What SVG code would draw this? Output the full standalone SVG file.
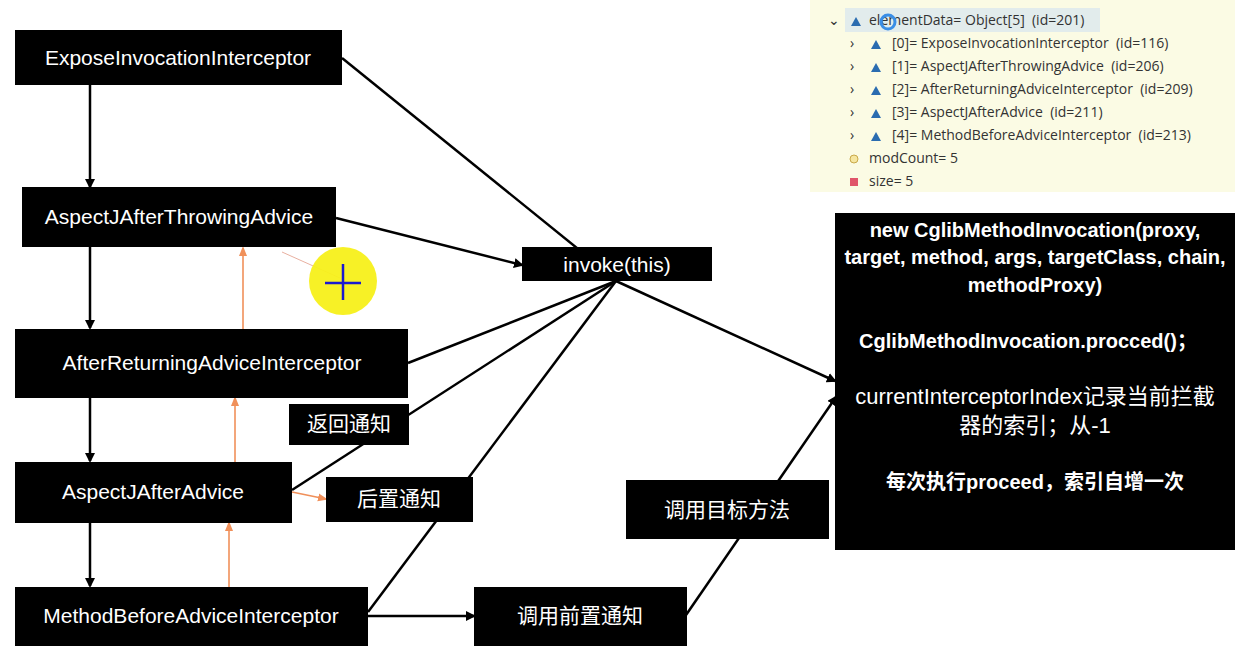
<svg xmlns="http://www.w3.org/2000/svg" width="1235" height="662" viewBox="0 0 1235 662">
<style>
.b{fill:#000}
.t{fill:#fff;font-family:"Liberation Sans","Noto Sans CJK SC",sans-serif;font-size:21px;text-anchor:middle}
.c{fill:#fff;font-family:"Liberation Sans","Noto Sans CJK SC",sans-serif;font-size:22px;text-anchor:middle}
.bt{fill:#fff;font-family:"Liberation Sans","Noto Sans CJK SC",sans-serif;font-size:20px;font-weight:bold;text-anchor:middle}
.d{font-family:"Open Sans","Liberation Sans",sans-serif;font-size:14px;fill:#333;white-space:pre}
.k{stroke:#000;stroke-width:2.5;fill:none}
.o{stroke:#f0905a;stroke-width:1.6;fill:none}
</style>
<defs>
<marker id="ak" markerWidth="10" markerHeight="10" refX="8" refY="5" orient="auto" markerUnits="userSpaceOnUse"><path d="M0,0 L10,5 L0,10 z" fill="#000"/></marker>
<marker id="ao" markerWidth="10" markerHeight="10" refX="8" refY="5" orient="auto" markerUnits="userSpaceOnUse"><path d="M0,1 L10,5 L0,9 z" fill="#f0905a"/></marker>
</defs>
<rect width="1235" height="662" fill="#fff"/>
<g id="debug">
<rect x="810" y="0" width="425" height="192" fill="#fbfbe4"/>
<rect x="845" y="8" width="255" height="24" fill="#e2ecec"/>
<text class="d" x="828" y="25">⌄</text>
<path d="M851,26 l5,-9 l5,9z" fill="#2a6cb0"/>
<text class="d" x="869" y="25">elementData= Object[5]  (id=201)</text>
<circle cx="888" cy="22" r="7" fill="none" stroke="#3a8ee6" stroke-width="3"/>
<g>
<text class="d" x="850" y="48">›</text><path d="M871,49 l5,-9 l5,9z" fill="#2a6cb0"/><text class="d" x="892" y="48">[0]= ExposeInvocationInterceptor  (id=116)</text>
<text class="d" x="850" y="71">›</text><path d="M871,72 l5,-9 l5,9z" fill="#2a6cb0"/><text class="d" x="892" y="71">[1]= AspectJAfterThrowingAdvice  (id=206)</text>
<text class="d" x="850" y="94">›</text><path d="M871,95 l5,-9 l5,9z" fill="#2a6cb0"/><text class="d" x="892" y="94">[2]= AfterReturningAdviceInterceptor  (id=209)</text>
<text class="d" x="850" y="117">›</text><path d="M871,118 l5,-9 l5,9z" fill="#2a6cb0"/><text class="d" x="892" y="117">[3]= AspectJAfterAdvice  (id=211)</text>
<text class="d" x="850" y="140">›</text><path d="M871,141 l5,-9 l5,9z" fill="#2a6cb0"/><text class="d" x="892" y="140">[4]= MethodBeforeAdviceInterceptor  (id=213)</text>
<circle cx="854" cy="159" r="4" fill="#f5e6a0" stroke="#c9a94a"/><text class="d" x="869" y="163">modCount= 5</text>
<rect x="850" y="178" width="8" height="8" fill="#e0556a"/><text class="d" x="869" y="186">size= 5</text>
</g>
</g>
<g id="connectors">
<line class="k" x1="90" y1="85" x2="90" y2="187" marker-end="url(#ak)"/>
<line class="k" x1="90" y1="247" x2="90" y2="328" marker-end="url(#ak)"/>
<line class="k" x1="90" y1="398" x2="90" y2="461" marker-end="url(#ak)"/>
<line class="k" x1="90" y1="522" x2="90" y2="586" marker-end="url(#ak)"/>
<line class="k" x1="342" y1="58" x2="614" y2="278" marker-end="url(#ak)"/>
<line class="k" x1="336" y1="218" x2="522" y2="265" marker-end="url(#ak)"/>
<line class="k" x1="408" y1="363" x2="616" y2="281"/>
<line class="k" x1="292" y1="490" x2="616" y2="281"/>
<line class="k" x1="368" y1="612" x2="616" y2="281"/>
<line class="k" x1="616" y1="281" x2="835" y2="381" marker-end="url(#ak)"/>
<line class="k" x1="368" y1="616" x2="474" y2="616" marker-end="url(#ak)"/>
<line class="k" x1="686" y1="615" x2="836" y2="397" marker-end="url(#ak)"/>
<line class="o" x1="243" y1="329" x2="243" y2="248" marker-end="url(#ao)"/>
<line class="o" x1="235" y1="463" x2="235" y2="398" marker-end="url(#ao)"/>
<line class="o" x1="229" y1="587" x2="229" y2="523" marker-end="url(#ao)"/>
<line class="o" x1="292" y1="492" x2="326" y2="499" marker-end="url(#ao)"/>
<line x1="282" y1="252" x2="340" y2="278" stroke="#e8b0a0" stroke-width="1"/>
</g>
<g id="n1"><rect class="b" x="15" y="30" width="327" height="55"/><text class="t" x="178" y="65">ExposeInvocationInterceptor</text></g>
<g id="n2"><rect class="b" x="22" y="187" width="314" height="60"/><text class="t" x="179" y="224">AspectJAfterThrowingAdvice</text></g>
<g id="n3"><rect class="b" x="15" y="329" width="393" height="69"/><text class="t" x="212" y="370">AfterReturningAdviceInterceptor</text></g>
<g id="n4"><rect class="b" x="15" y="462" width="277" height="61"/><text class="t" x="153" y="499">AspectJAfterAdvice</text></g>
<g id="n5"><rect class="b" x="15" y="587" width="353" height="59"/><text class="t" x="191" y="623">MethodBeforeAdviceInterceptor</text></g>
<g id="invoke"><rect class="b" x="522" y="247" width="190" height="34"/><text class="t" x="617" y="272">invoke(this)</text></g>
<g id="fanhui"><rect class="b" x="289" y="404" width="120" height="41"/><text class="t" x="349" y="431">返回通知</text></g>
<g id="houzhi"><rect class="b" x="326" y="477" width="147" height="45"/><text class="t" x="399" y="506">后置通知</text></g>
<g id="mubiao"><rect class="b" x="626" y="480" width="203" height="59"/><text class="t" x="727" y="517">调用目标方法</text></g>
<g id="qianzhi"><rect class="b" x="474" y="587" width="213" height="59"/><text class="t" x="580" y="623">调用前置通知</text></g>
<g id="big"><rect class="b" x="835" y="213" width="400" height="337"/>
<text class="bt" x="1035" y="237">new CglibMethodInvocation(proxy,</text>
<text class="bt" x="1035" y="264">target, method, args, targetClass, chain,</text>
<text class="bt" x="1035" y="292">methodProxy)</text>
<text class="bt" x="1028" y="348">CglibMethodInvocation.procced()；</text>
<text class="c" x="1035" y="404">currentInterceptorIndex记录当前拦截</text>
<text class="c" x="1035" y="433">器的索引；从-1</text>
<text class="bt" x="1035" y="489">每次执行proceed，索引自增一次</text>
</g>
<g id="cursor"><circle cx="343" cy="281" r="34" fill="#f7f01a" opacity="0.95"/><line x1="325" y1="283" x2="361" y2="283" stroke="#1a1ad0" stroke-width="2.5"/><line x1="343" y1="264" x2="343" y2="300" stroke="#1a1ad0" stroke-width="2.5"/></g>
</svg>
